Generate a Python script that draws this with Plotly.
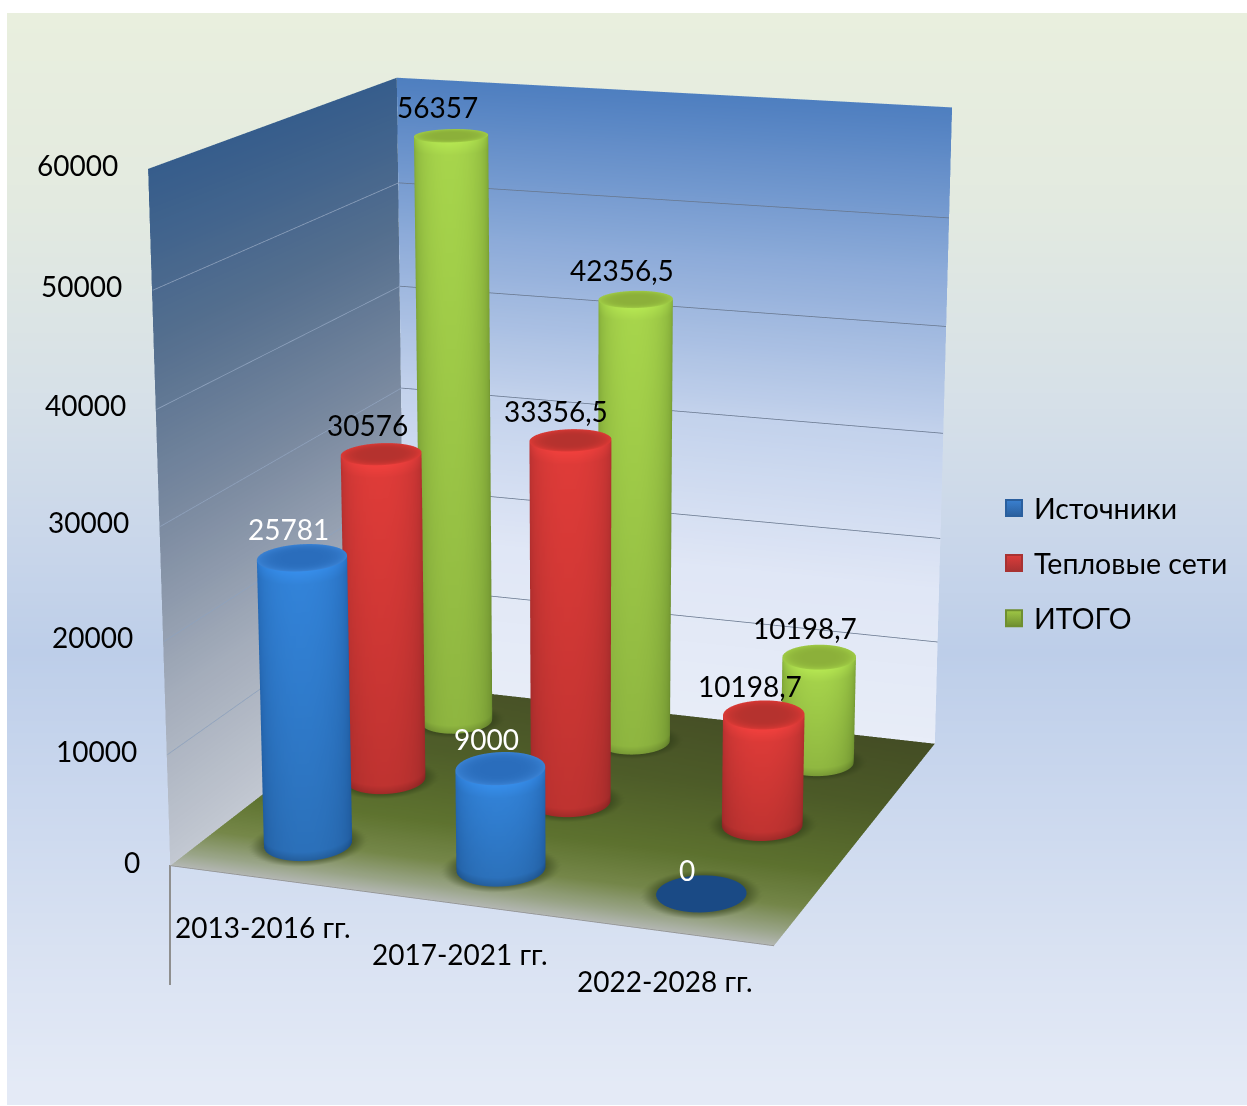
import numpy as np
import plotly.graph_objects as go

W, H = 1247, 1106
categories = ["2013-2016 гг.", "2017-2021 гг.", "2022-2028 гг."]
series_names = ["Источники", "Тепловые сети", "ИТОГО"]
sources = [25781, 9000, 0]
networks = [30576, 33356.5, 10198.7]
totals = [56357, 42356.5, 10198.7]
value_ticks = [0, 10000, 20000, 30000, 40000, 50000, 60000]
all_vals = [sources, networks, totals]

# Scene extents and camera
ZMIN, ZMAX = -1000, 61000
VIEW_W, VIEW_H = 1164, 1000
ASPECT_Y, ASPECT_Z = 0.9845, 1.1568
EYE = (1.9132, -5.3375, 1.4977)
LOOK_AT = (0.0257, -0.0165, -0.0314)
UP_X = -0.0023
LENS = 7.2030  # cotangent of half the vertical field of view
FOVY = 2 * np.arctan(1 / LENS)

FONT = "Lato"
FS = 28

fig = go.Figure()


def rgb(a):
    return ["rgb(%d,%d,%d)" % tuple(v) for v in np.clip(a, 0, 255).astype(int)]


def hexc(h):
    return np.array([int(h[i:i + 2], 16) for i in (1, 3, 5)], float)


def ramp(v, stops):
    xs = [s[0] for s in stops]
    cs = np.array([hexc(s[1]) for s in stops])
    return np.stack([np.interp(v, xs, cs[:, i]) for i in range(3)], -1)


def grid_mesh(X, Y, Z, C):
    """Add a rectangular grid of vertices with per-vertex colours as an unlit mesh."""
    n, m = X.shape
    idx = np.arange(n * m).reshape(n, m)
    a, b, c, d = idx[:-1, :-1].ravel(), idx[1:, :-1].ravel(), idx[1:, 1:].ravel(), idx[:-1, 1:].ravel()
    fig.add_trace(go.Mesh3d(
        x=X.ravel(), y=Y.ravel(), z=Z.ravel(),
        i=np.r_[a, a], j=np.r_[b, c], k=np.r_[c, d],
        vertexcolor=rgb(C.reshape(-1, 3)),
        lighting=dict(ambient=1, diffuse=0, specular=0, fresnel=0, roughness=1),
        flatshading=False, hoverinfo="skip", showlegend=False))


# Walls
zz = np.linspace(0, 60000, 61)
tt = np.linspace(0, 3, 3)
back_stops = [(0, "#e8edf8"), (15000, "#e0e7f6"), (30000, "#c3d2ec"), (45000, "#8dabd9"), (60000, "#4e7fc0")]
left_stops = [(0, "#c3c8d2"), (15000, "#a4adbb"), (30000, "#7c8ba1"), (45000, "#56708f"), (60000, "#365d8c")]
A, B = np.meshgrid(tt, zz, indexing="ij")
grid_mesh(A, np.full_like(A, 3.0), B, ramp(B, back_stops))
grid_mesh(np.zeros_like(A), A, B, ramp(B, left_stops))

# Floor with a soft contact shadow around each cylinder
radii = [.208, .196, .186]
fx, fy = np.meshgrid(np.linspace(0, 3, 151), np.linspace(0, 3, 151), indexing="ij")
floor = ramp(fy, [(0, "#b4b8b4"), (.18, "#9aa588"), (.5, "#76884a"), (1.0, "#5f7430"), (2.0, "#505f2a"), (3.0, "#4a5428")])
floor = floor * (1 - 0.08 * (fx / 3)[..., None] * (fy / 3)[..., None])
for i in range(len(categories)):
    for j in range(len(series_names)):
        rx = radii[j]
        ry = 1.15 * rx / ASPECT_Y
        d = np.sqrt(((fx - i - .5) / rx) ** 2 + ((fy - j - .5) / ry) ** 2)
        s = np.clip((1.32 - d) / .32, 0, 1)[..., None]
        floor = floor * (1 - s * .55) + hexc("#2c3a16") * s * .55
grid_mesh(fx, fy, np.zeros_like(fx), floor)

# Gridlines on both walls and the front edge of the floor
for z in value_ticks[1:-1]:
    fig.add_trace(go.Scatter3d(x=[0.004, 0.004], y=[0, 2.996], z=[z, z], mode="lines",
                               line=dict(color="#8fa2bd", width=1.5), hoverinfo="skip", showlegend=False))
    fig.add_trace(go.Scatter3d(x=[0.004, 3], y=[2.996, 2.996], z=[z, z], mode="lines",
                               line=dict(color="#66758c", width=1.5), hoverinfo="skip", showlegend=False))
fig.add_trace(go.Scatter3d(x=[0, 3, 3], y=[0, 0, 0], z=[0, 0, 0], mode="lines",
                           line=dict(color="#8e8e8e", width=1.5), hoverinfo="skip", showlegend=False))

# Cylinders: centre tone, edge tone, cap tone, cap rim tone per series
palette = [("#3384da", "#2263ae", "#2a6dbc", "#3a82d4"),
           ("#e03c39", "#ab2e2e", "#b5322e", "#dc3a36"),
           ("#a8d64c", "#769c33", "#8cb03a", "#a0cc46")]
for j, vals in enumerate(all_vals):
    cen, edge, topc, rim = [hexc(c) for c in palette[j]]
    rx = radii[j]
    ry = 1.15 * rx / ASPECT_Y
    for i, v in enumerate(vals):
        xc, yc = i + .5, j + .5
        th = np.linspace(0, 2 * np.pi, 73)
        if v > 0:
            hz = np.unique(np.clip(np.r_[np.linspace(0, 1, 26), 1 - 1200 / v, 800 / v], 0, 1))
            T, Hh = np.meshgrid(th, hz, indexing="ij")
            X = xc + rx * np.cos(T)
            Y = yc + ry * np.sin(T)
            Z = Hh * v
            ex = EYE[0] - (xc / 3 - .5)
            ey = EYE[1] - (yc / 3 - .5) * ASPECT_Y
            n = np.hypot(ex, ey)
            sh = np.clip(np.cos(T) * ex / n + np.sin(T) * ey / n, 0, 1) ** .8
            C = edge[None, None] + (cen - edge)[None, None] * sh[..., None]
            C = C * (1 - .15 * (1 - Hh)[..., None])
            C = C * (1 + .08 * np.clip(1 - (v - Z) / 1200, 0, 1)[..., None]) * (1 - .15 * np.clip(1 - Z / 800, 0, 1)[..., None])
            grid_mesh(X, Y, Z, C)
        R, T = np.meshgrid(np.linspace(0, 1, 13), th, indexing="ij")
        X = xc + rx * R * np.cos(T)
        Y = yc + ry * R * np.sin(T)
        if v > 0:
            C = topc[None, None] + (rim - topc)[None, None] * (R ** 4)[..., None]
            grid_mesh(X, Y, np.full_like(X, v), C)
        else:
            grid_mesh(X, Y, np.full_like(X, 60.0), np.broadcast_to(hexc("#1a4a85"), X.shape + (3,)))


def label(v):
    return f"{v:g}".replace(".", ",")


# Axis and value labels stay attached to their points in the scene
ann = []
for t in value_ticks:
    ann.append(dict(x=0, y=0, z=t, text=str(t), showarrow=False, xanchor="right", xshift=-28, yshift=4,
                    font=dict(family=FONT, size=FS, color="black")))
for i, cn in enumerate(categories):
    ann.append(dict(x=i + .5, y=0, z=0, text=cn, showarrow=False, yshift=-49, xshift=-3,
                    font=dict(family=FONT, size=FS, color="black")))
for j, vals in enumerate(all_vals):
    for i, v in enumerate(vals):
        ann.append(dict(x=i + .5, y=j + .5, z=v, text=label(v), showarrow=False,
                        yshift=29 if v > 0 else 24, xshift=-14,
                        font=dict(family=FONT, size=FS, color="white" if j == 0 else "black")))

# Page background gradient, leaving a white strip along the left and top edges
bg_rows = [13, 200, 400, 530, 650, 800, 950, 1085]
bg_cols = ["#e9efde", "#e3eae0", "#d6e0e8", "#cad7ea", "#bdcee9", "#cbd8ee", "#d9e2f2", "#e4eaf6"]
ys = np.arange(13, 1107, 4)
fig.add_trace(go.Heatmap(x=[7, 627, 1247], y=ys, z=[[v, v] for v in ys[:-1]],
                         colorscale=[[(r - 13) / (1085 - 13), c] for r, c in zip(bg_rows, bg_cols)],
                         zmin=13, zmax=1085, showscale=False, hoverinfo="skip"))

# Stub of the depth axis below the corner of the floor
fig.add_trace(go.Scatter(x=[170, 170], y=[865, 985], mode="lines", line=dict(color="#8f8f8f", width=2),
                         hoverinfo="skip", showlegend=False))

# Legend entries
for n, c, c2 in zip(series_names, ["#3a80d0", "#dc3c3a", "#a0c846"], ["#2a5f9e", "#a83232", "#6f8f30"]):
    fig.add_trace(go.Scatter(x=[None], y=[None], name=n, mode="markers", legendgroup=n,
                             marker=dict(symbol="square", size=21, color=c,
                                         gradient=dict(type="vertical", color=c2),
                                         line=dict(width=2, color=c2))))

fig.update_layout(
    width=W, height=H, margin=dict(l=0, r=0, t=0, b=0), paper_bgcolor="white", plot_bgcolor="rgba(0,0,0,0)",
    xaxis=dict(visible=False, range=[0, W], domain=[0, 1]),
    yaxis=dict(visible=False, range=[H, 0], domain=[0, 1]),
    legend=dict(x=(1014 - 20) / W, y=1 - 483 / H, xanchor="left", yanchor="top", bgcolor="rgba(0,0,0,0)",
                font=dict(family=FONT, size=28.5, color="black"), tracegroupgap=15),
    scene=dict(
        domain=dict(x=[0, VIEW_W / W], y=[1 - VIEW_H / H, 1]), bgcolor="rgba(0,0,0,0)",
        aspectmode="manual", aspectratio=dict(x=1, y=ASPECT_Y, z=ASPECT_Z),
        camera=dict(eye=dict(x=EYE[0], y=EYE[1], z=EYE[2]),
                    center=dict(x=LOOK_AT[0], y=LOOK_AT[1], z=LOOK_AT[2]),
                    up=dict(x=UP_X, y=0, z=1), projection=dict(type="perspective")),
        xaxis=dict(visible=False, range=[0, 3]),
        yaxis=dict(visible=False, range=[0, 3]),
        zaxis=dict(visible=False, range=[ZMIN, ZMAX]),
        annotations=ann))

# Plotly has no layout option for the field of view, so set a long lens once the scene exists
post = """
var gd = document.getElementById('{plot_id}');
function narrowLens() {
  var s = gd._fullLayout && gd._fullLayout.scene && gd._fullLayout.scene._scene;
  if (s && s.glplot) { s.glplot.fovy = %f; s.glplot.redraw(); }
  else { setTimeout(narrowLens, 30); }
}
narrowLens();
""" % FOVY
fig.write_html("out.html", post_script=post)
